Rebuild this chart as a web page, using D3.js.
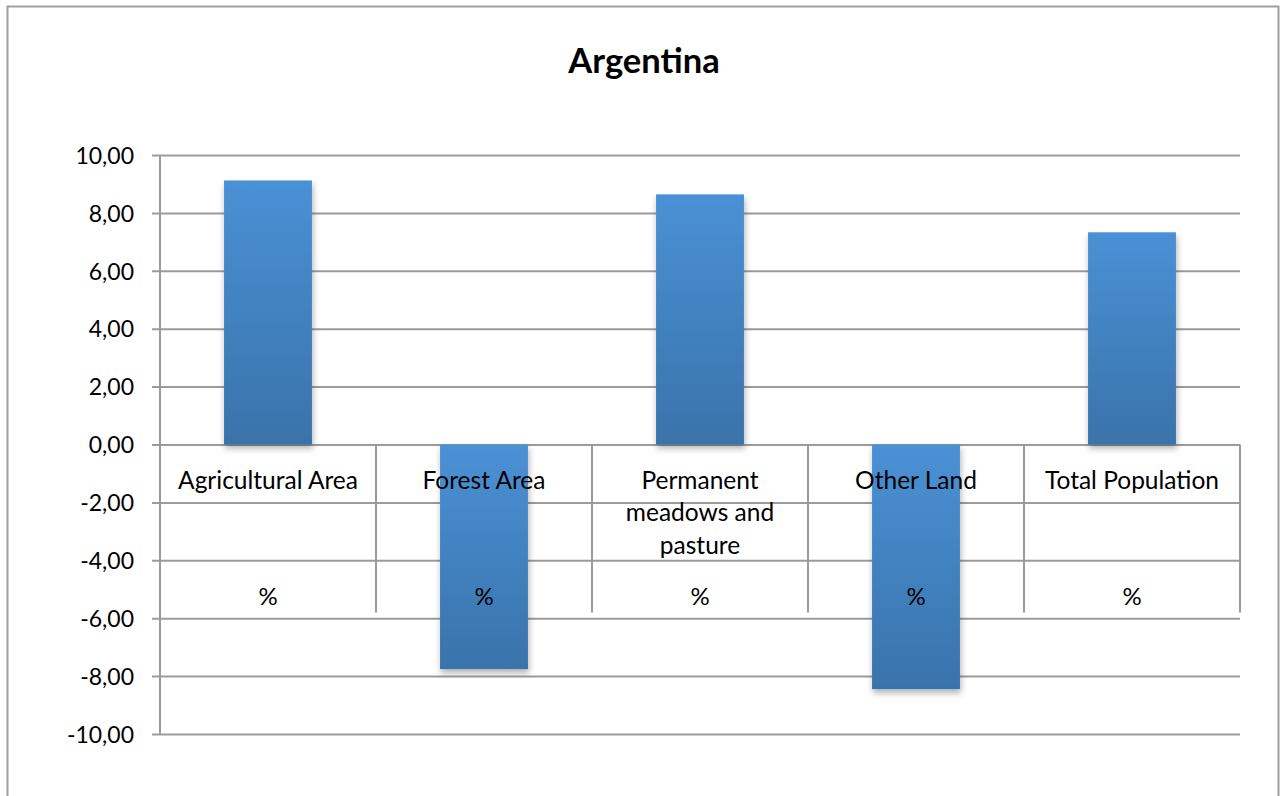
<!DOCTYPE html>
<html>
<head>
<meta charset="utf-8">
<script src="https://cdn.jsdelivr.net/npm/d3@7"></script>
<style>
  html, body { margin: 0; padding: 0; background: #fff; }
  svg { display: block; }
  text { font-family: Lato, "Open Sans", sans-serif; fill: #000; }
</style>
</head>
<body>
<svg id="chart" width="1282" height="796"></svg>
<script>
// Percentage change by indicator, Argentina
const categories = ["Agricultural Area", "Forest Area", "Permanent meadows and pasture", "Other Land", "Total Population"];
const categoryLines = [["Agricultural Area"], ["Forest Area"], ["Permanent", "meadows and", "pasture"], ["Other Land"], ["Total Population"]];
const unitLabels = ["%", "%", "%", "%", "%"];
const values = [9.12, -7.76, 8.64, -8.45, 7.33];
const yTicks = [-10, -8, -6, -4, -2, 0, 2, 4, 6, 8, 10];
const chartTitle = "Argentina";

const svg = d3.select("#chart");
const plot = { left: 160, right: 1240, top: 155, bottom: 734 };
const gridColor = "#9b9b9b";

const locale = d3.formatLocale({ decimal: ",", thousands: ".", grouping: [3], currency: ["", ""], minus: "-" });
const fmt = locale.format(".2f");

const x = d3.scaleBand().domain(categories).range([plot.left, plot.right]).paddingInner(0).paddingOuter(0);
const y = d3.scaleLinear().domain([-10, 10]).range([plot.bottom, plot.top]);
const barW = x.bandwidth() * 0.407;

// defs: bar gradient and soft drop shadow
const defs = svg.append("defs");
const grad = defs.append("linearGradient").attr("id", "barGrad")
  .attr("x1", 0).attr("y1", 0).attr("x2", 0).attr("y2", 1);
grad.append("stop").attr("offset", "0%").attr("stop-color", "#4a91d5");
grad.append("stop").attr("offset", "100%").attr("stop-color", "#3973aa");
const shadow = defs.append("filter").attr("id", "shadow")
  .attr("x", "-20%").attr("y", "-10%").attr("width", "140%").attr("height", "130%");
shadow.append("feDropShadow").attr("dx", 1).attr("dy", 4).attr("stdDeviation", 3)
  .attr("flood-color", "#000").attr("flood-opacity", 0.3);

// outer frame
svg.append("rect").attr("x", 7.5).attr("y", 6.5).attr("width", 1271).attr("height", 820)
  .attr("fill", "#fff").attr("stroke", "#a0a0a0").attr("stroke-width", 2);

// title
svg.append("text").attr("x", 644).attr("y", 73).attr("text-anchor", "middle")
  .style("font-size", "34.5px").style("font-weight", "bold").text(chartTitle);

// y axis with gridlines
const yAxis = d3.axisLeft(y).tickValues(yTicks).tickFormat(fmt)
  .tickSize(-(plot.right - plot.left)).tickPadding(0);
const gy = svg.append("g").attr("transform", `translate(${plot.left},0)`).call(yAxis);
gy.select(".domain").remove();
gy.selectAll(".tick line").attr("x1", -8).attr("stroke", gridColor).attr("stroke-width", 2);
gy.selectAll(".tick text").attr("x", -26).attr("dy", "0.36em")
  .style("font-size", "23px").style("font-family", "Lato, sans-serif").attr("fill", "#000");

// vertical value axis line
svg.append("line").attr("x1", plot.left).attr("x2", plot.left)
  .attr("y1", y(10)).attr("y2", y(-10)).attr("stroke", gridColor).attr("stroke-width", 2);

// category table separators (below zero line)
const sepBottom = y(0) + 168;
const boundaries = categories.map(c => x(c) + x.bandwidth());
svg.append("g").selectAll("line").data(boundaries).join("line")
  .attr("x1", d => d).attr("x2", d => d)
  .attr("y1", y(0)).attr("y2", sepBottom)
  .attr("stroke", gridColor).attr("stroke-width", 2);

// bars
svg.append("g").selectAll("rect").data(values).join("rect")
  .attr("x", (d, i) => x(categories[i]) + (x.bandwidth() - barW) / 2)
  .attr("y", d => y(Math.max(0, d)))
  .attr("width", barW)
  .attr("height", d => Math.abs(y(d) - y(0)))
  .attr("fill", "url(#barGrad)")
  .attr("filter", "url(#shadow)");

// category labels
const lineH = 32.5;
const catG = svg.append("g").selectAll("text").data(categoryLines).join("text")
  .attr("text-anchor", "middle")
  .attr("x", (d, i) => x(categories[i]) + x.bandwidth() / 2)
  .attr("y", y(0) + 44)
  .style("font-size", "24.5px");
catG.selectAll("tspan").data(d => d).join("tspan")
  .attr("x", function () { return this.parentNode.getAttribute("x"); })
  .attr("dy", (d, j) => j === 0 ? 0 : lineH)
  .text(d => d);

// unit row labels
svg.append("g").selectAll("text").data(unitLabels).join("text")
  .attr("text-anchor", "middle")
  .attr("x", (d, i) => x(categories[i]) + x.bandwidth() / 2)
  .attr("y", y(0) + 160)
  .style("font-size", "24px")
  .text(d => d);
</script>
</body>
</html>
